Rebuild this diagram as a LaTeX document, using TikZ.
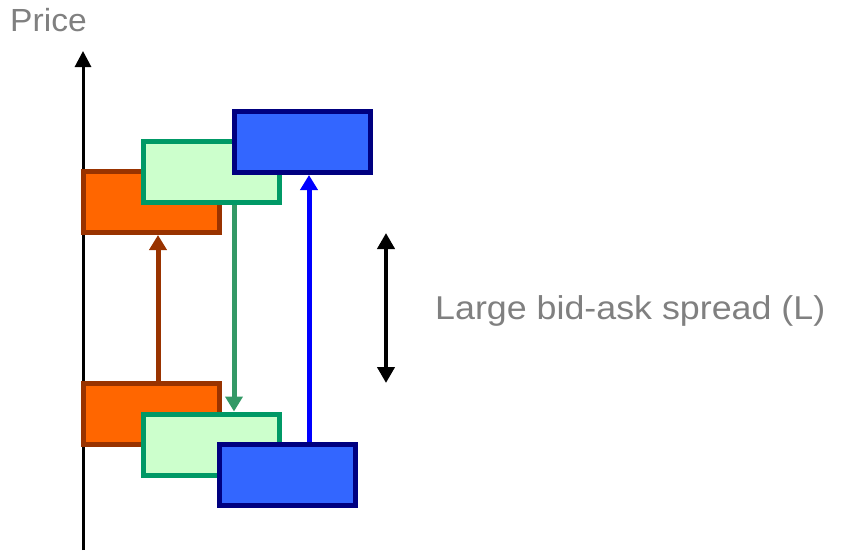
\documentclass[tikz,border=0pt]{standalone}
\usepackage{fontspec}
\setmainfont{Liberation Sans}
\newfontfamily\pricefont[FakeStretch=1.05]{Liberation Sans}
\newfontfamily\spreadfont[FakeStretch=1.085]{Liberation Sans}
\usetikzlibrary{arrows.meta}
\definecolor{orfill}{HTML}{FF6600}
\definecolor{ordraw}{HTML}{993300}
\definecolor{grfill}{HTML}{CCFFCC}
\definecolor{grdraw}{HTML}{009966}
\definecolor{grarrow}{HTML}{339966}
\definecolor{blfill}{HTML}{3366FF}
\definecolor{bldraw}{HTML}{000080}
\definecolor{blarrow}{HTML}{0000FF}
\definecolor{txtgray}{HTML}{808080}
\tikzset{
  quote/.style={rectangle, line width=5pt, minimum width=136pt, minimum height=61pt, inner sep=0pt},
  orbox/.style={quote, draw=ordraw, fill=orfill},
  grbox/.style={quote, draw=grdraw, fill=grfill},
  blbox/.style={quote, draw=bldraw, fill=blfill},
  conn/.style={line width=5pt, -{Triangle[width=17pt,length=15pt]}},
  lbl/.style={text=txtgray, inner sep=0pt}
}
\begin{document}
\begin{tikzpicture}[x=1pt,y=-1pt]
\useasboundingbox (0,0) rectangle (841,550);
% axis
\coordinate (axbot) at (83,550);
\coordinate (axtop) at (83,51);
\draw[line width=3pt, -{Triangle[width=16pt,length=16pt]}] (axbot) -- (axtop);
\node[lbl, font=\pricefont\fontsize{32}{38}\selectfont, anchor=base west] (price) at (10,31) {Price};
% top boxes
\node[orbox] (to) at (151.5,202) {};
\node[grbox] (tg) at (211.5,172) {};
\node[blbox] (tb) at (302.5,142) {};
% bottom boxes
\node[orbox] (bo) at (151.5,414) {};
\node[grbox] (bg) at (211.5,444.5) {};
\node[blbox] (bb) at (287.5,474.5) {};
% arrow columns
\coordinate (xo) at (158,0);
\coordinate (xg) at (234,0);
\coordinate (xb) at (309,0);
\draw[conn, draw=ordraw, fill=ordraw] (bo.north -| xo) -- (to.south -| xo);
\draw[conn, draw=grarrow, fill=grarrow] (tg.south -| xg) -- (bg.north -| xg);
\draw[conn, draw=blarrow, fill=blarrow] (bb.north -| xb) -- (tb.south -| xb);
% spread
\coordinate (sptop) at (386,233);
\coordinate (spbot) at (386,383);
\draw[line width=4.5pt, {Triangle[width=17pt,length=16pt]}-{Triangle[width=17pt,length=16pt]}] (spbot) -- (sptop);
\node[lbl, font=\spreadfont\fontsize{33}{40}\selectfont, anchor=base west] (spread) at (435,319) {Large bid-ask spread (L)};
\end{tikzpicture}
\end{document}
